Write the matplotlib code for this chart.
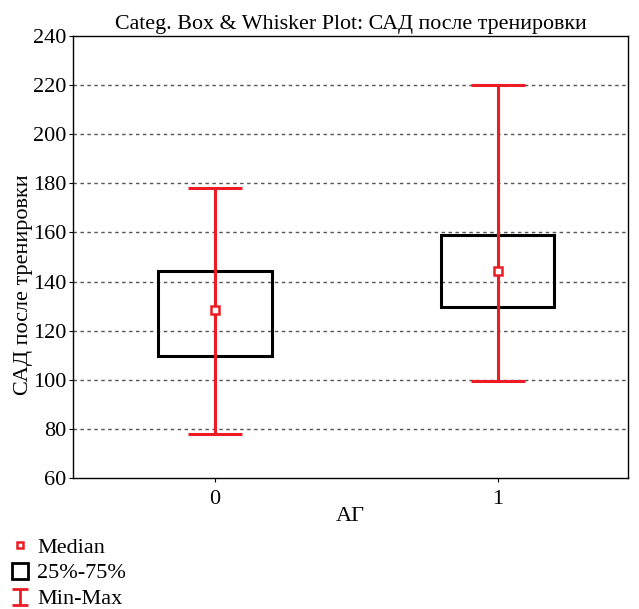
import matplotlib
matplotlib.use("Agg")
import matplotlib.pyplot as plt
from matplotlib.patches import Rectangle
from matplotlib.lines import Line2D
from matplotlib.path import Path
import numpy as np

plt.rcParams["font.family"] = ["Liberation Serif", "DejaVu Serif"]

categories = ["0", "1"]
q1 = [109.5, 129.5]
q3 = [144.5, 159.0]
medians = [128.5, 144.5]
mins = [78.0, 99.5]
maxs = [178.0, 220.0]

RED = "#ED1C24"
box_w = 0.4
cap_w = 0.19

fig = plt.figure(figsize=(6.39, 6.09), dpi=100)
ax = fig.add_axes([0.1142, 0.2151, 0.8686, 0.7258])

x = np.arange(len(categories))
for xi, lo, hi, mn, mx, md in zip(x, q1, q3, mins, maxs, medians):
    ax.add_patch(Rectangle((xi - box_w / 2, lo), box_w, hi - lo,
                           fill=False, edgecolor="black", lw=2.2, zorder=3))
    ax.vlines(xi, mn, mx, color=RED, lw=2.2, zorder=4)
    ax.hlines([mn, mx], xi - cap_w / 2, xi + cap_w / 2, color=RED, lw=2.2, zorder=4)
    ax.plot(xi, md, marker="s", ms=6, mfc="white", mec=RED, mew=1.8, ls="none", zorder=5)

ax.set_xlim(-0.502, 1.46)
ax.set_ylim(60, 240)
ax.set_yticks(np.arange(60, 241, 20))
ax.set_xticks(x)
ax.set_xticklabels(categories)
ax.tick_params(axis="y", labelsize=16, direction="out", length=3, width=0.8, pad=1.5)
ax.tick_params(axis="x", labelsize=16, direction="out", length=3, width=0.8, pad=5.5)
for yv in np.arange(80, 221, 20):
    ax.axhline(yv, color="#555555", lw=1.0, ls=(0, (2.5, 2.5)), zorder=1)
for s in ax.spines.values():
    s.set_linewidth(1.0)

ax.set_title("Categ. Box & Whisker Plot: САД после тренировки", fontsize=15.8, pad=5)
ax.set_xlabel("АГ", fontsize=16)
ax.xaxis.set_label_coords(0.5, -0.066)
ax.set_ylabel("САД после тренировки", fontsize=16)
ax.yaxis.set_label_coords(-0.072, 0.437)

# legend
cap_path = Path([(-1, 1), (1, 1), (0, 1), (0, -1), (-1, -1), (1, -1)],
                [Path.MOVETO, Path.LINETO, Path.MOVETO, Path.LINETO, Path.MOVETO, Path.LINETO])
handles = [
    Line2D([], [], marker="s", ms=5, mfc="white", mec=RED, mew=1.8, ls="none"),
    Line2D([], [], marker="s", ms=11, mfc="white", mec="black", mew=2.0, ls="none"),
    Line2D([], [], marker=cap_path, ms=12, mec=RED, mew=2.0, ls="none"),
]
fig.legend(handles, ["Median", "25%-75%", "Min-Max"], loc="lower left",
           bbox_to_anchor=(-0.01, -0.026), frameon=False, fontsize=16,
           handlelength=1.0, handletextpad=0.27, labelspacing=0.24, borderpad=0.2)

fig.savefig("out.png", dpi=100)
